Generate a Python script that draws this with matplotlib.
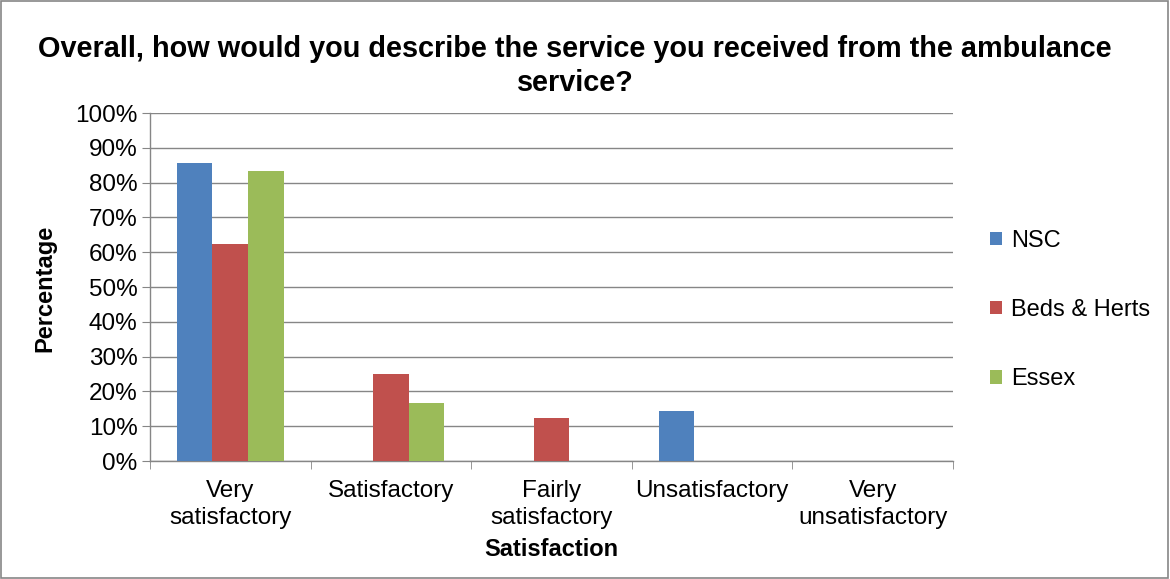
import matplotlib.pyplot as plt
import numpy as np
from matplotlib.patches import Rectangle

plt.rcParams['font.family'] = ['Liberation Sans', 'DejaVu Sans']

categorias = ['Very\nsatisfactory', 'Satisfactory', 'Fairly\nsatisfactory',
              'Unsatisfactory', 'Very\nunsatisfactory']
nsc = [85.7, 0, 0, 14.3, 0]
beds_herts = [62.5, 25.0, 12.5, 0, 0]
essex = [83.3, 16.7, 0, 0, 0]
series = ['NSC', 'Beds & Herts', 'Essex']
colores = ['#4F81BD', '#C0504D', '#9BBB59']

fig = plt.figure(figsize=(11.7, 5.79), dpi=100)
ax = fig.add_axes([150/1170, 1-461/579, 803/1170, 348/579])

x = np.arange(len(categorias))
ancho = 0.222
for i, (vals, nombre, c) in enumerate(zip([nsc, beds_herts, essex], series, colores)):
    ax.bar(x + (i-1)*ancho, vals, ancho, color=c, label=nombre, zorder=3)

ax.set_xlim(-0.5, len(categorias)-0.5)
ax.set_ylim(0, 100)
ax.set_yticks(np.arange(0, 101, 10))
ax.set_yticklabels([f'{v}%' for v in range(0, 101, 10)], fontsize=17.5)
ax.set_xticks(x)
ax.set_xticklabels(categorias, fontsize=17.5, linespacing=1.25)
ax.set_xticks(np.arange(-0.5, len(categorias), 1), minor=True)
ax.tick_params(axis='x', which='major', length=0, pad=14)
ax.tick_params(axis='x', which='minor', length=6, color='#868686', direction='out')
ax.tick_params(axis='y', length=6, color='#868686', direction='out', pad=3)
ax.grid(axis='y', color='#868686', linewidth=1, zorder=0)
for s in ['top', 'right']:
    ax.spines[s].set_visible(False)
for s in ['left', 'bottom']:
    ax.spines[s].set_color('#868686')
    ax.spines[s].set_linewidth(1)

fig.text(45/1170, 1-288/579, 'Percentage', rotation=90, ha='center', va='center',
         fontsize=17, fontweight='bold')
fig.text(551/1170, 1-550/579, 'Satisfaction', ha='center', va='center',
         fontsize=17, fontweight='bold')

fig.text(575/1170, 1-66/579,
         'Overall, how would you describe the service you received from the ambulance\nservice?',
         ha='center', va='center', fontsize=20.8, fontweight='bold', linespacing=1.3)

leg = ax.legend(loc='upper left', bbox_to_anchor=(978/1170, 1-218/579), bbox_transform=fig.transFigure,
                frameon=False, fontsize=17, handlelength=0.5, handleheight=0.5,
                handletextpad=0.4, labelspacing=2.0, borderpad=0)

fig.patches.append(Rectangle((0.001, 0.002), 0.997, 0.996, transform=fig.transFigure,
                             fill=False, edgecolor='#868686', linewidth=1.2))

fig.savefig('out.png', dpi=100)
